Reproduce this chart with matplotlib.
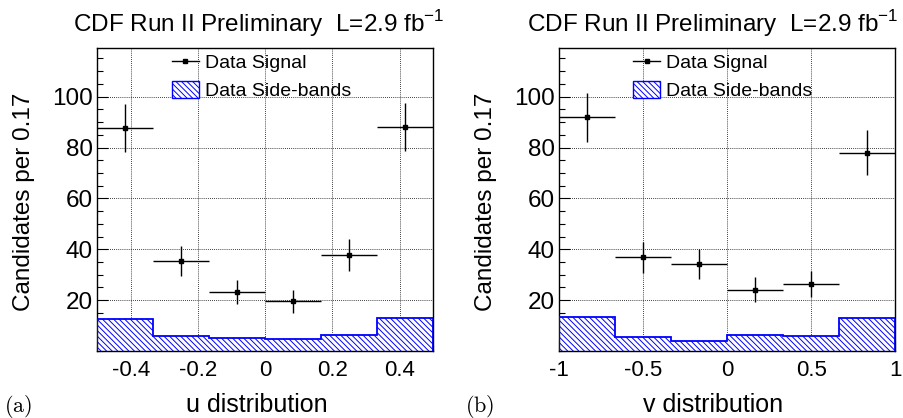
import numpy as np
import matplotlib
matplotlib.use("Agg")
import matplotlib.pyplot as plt
from matplotlib.patches import Patch
from matplotlib.lines import Line2D
from matplotlib.ticker import MultipleLocator, FixedLocator

plt.rcParams['font.family'] = ['Liberation Sans', 'DejaVu Sans']
plt.rcParams['mathtext.fontset'] = 'custom'
plt.rcParams['mathtext.rm'] = 'Liberation Sans'
plt.rcParams['hatch.linewidth'] = 0.7
plt.rcParams['hatch.color'] = '#0000ff'

# ---- data ----
u_edges = [-0.5, -1/3, -1/6, 0.0, 1/6, 1/3, 0.5]
u_signal = [87.6, 35.2, 23.3, 19.6, 37.8, 88.2]
u_signal_err = [9.4, 5.9, 4.8, 4.5, 6.2, 9.4]
u_sideband = [12.5, 6.0, 5.0, 4.6, 6.4, 12.9]

v_edges = [-1.0, -2/3, -1/3, 0.0, 1/3, 2/3, 1.0]
v_signal = [91.8, 36.8, 34.1, 24.1, 26.3, 78.0]
v_signal_err = [9.5, 6.1, 5.9, 4.9, 5.2, 8.7]
v_sideband = [13.2, 5.4, 3.8, 6.2, 5.8, 12.9]

title_text = r'CDF Run II Preliminary  L=2.9 fb$^{-1}$'
ylabel_text = 'Candidates per 0.17'
legend_labels = ['Data Signal', 'Data Side-bands']

HATCH = '\\' * 6

W, H = 904, 418
fig = plt.figure(figsize=(W/100, H/100), dpi=100)

panels = [
    dict(edges=u_edges, sig=u_signal, err=u_signal_err, sb=u_sideband,
         xlabel='u distribution', tag='(a)', left=97.3, xmin=0.05,
         xticks=[-0.4, -0.2, 0, 0.2, 0.4], xticklabels=['-0.4', '-0.2', '0', '0.2', '0.4'],
         title_x=259, ylab_x=24, tag_x=18, xlab_x=257, leg_x=0.221),
    dict(edges=v_edges, sig=v_signal, err=v_signal_err, sb=v_sideband,
         xlabel='v distribution', tag='(b)', left=559.3, xmin=0.1,
         xticks=[-1, -0.5, 0, 0.5, 1], xticklabels=['-1', '-0.5', '0', '0.5', '1'],
         title_x=713, ylab_x=486, tag_x=480, xlab_x=713, leg_x=0.219),
]

ax_w, ax_top, ax_bot = 336.0, 48.3, 351.0
for p in panels:
    ax = fig.add_axes([p['left']/W, (H-ax_bot)/H, ax_w/W, (ax_bot-ax_top)/H])
    edges = np.array(p['edges'])
    centers = 0.5*(edges[:-1] + edges[1:])
    halfw = 0.5*np.diff(edges)
    # side-band histogram (hatched)
    ax.stairs(p['sb'], edges, fill=True, facecolor='white', edgecolor='#0000ff',
              hatch=HATCH, linewidth=0, zorder=2)
    ax.stairs(p['sb'], edges, fill=False, edgecolor='#0000ff', linewidth=1.3,
              baseline=0, zorder=3)
    # signal data points
    ax.errorbar(centers, p['sig'], xerr=halfw, yerr=p['err'], fmt='s', color='black',
                ms=2.2, elinewidth=1.0, capsize=0, zorder=4)
    ax.set_xlim(edges[0], edges[-1])
    ax.set_ylim(0, 119)
    ax.xaxis.set_major_locator(FixedLocator(p['xticks']))
    ax.set_xticklabels(p['xticklabels'])
    ax.xaxis.set_minor_locator(MultipleLocator(p['xmin']))
    ax.yaxis.set_major_locator(FixedLocator([20, 40, 60, 80, 100]))
    ax.yaxis.set_minor_locator(MultipleLocator(5))
    ax.tick_params(which='both', direction='in', top=False, right=False,
                   colors='black', width=0.8)
    ax.tick_params(which='major', length=8)
    ax.tick_params(which='minor', length=4)
    ax.tick_params(axis='y', which='major', labelsize=17.5, pad=3.3)
    ax.tick_params(axis='x', which='major', labelsize=16, pad=6.5)
    ax.grid(True, which='major', linestyle=(0, (1, 1.5)), color='black', linewidth=0.6)
    for s in ax.spines.values():
        s.set_linewidth(1.0)
    # legend
    handles = [Line2D([], [], color='black', marker='s', ms=2.2, lw=1.0),
               Patch(facecolor='white', edgecolor='#0000ff', hatch=HATCH, linewidth=1.0)]
    ax.legend(handles, legend_labels, loc='upper left', bbox_to_anchor=(p['leg_x'], 0.985),
              frameon=False, fontsize=14, handlelength=1.42, handleheight=1.0,
              handletextpad=0.3, labelspacing=0.45, borderpad=0.0, borderaxespad=0.0)
    fig.text(p['title_x']/W, 1 - 24/H, title_text, ha='center', va='center', fontsize=17.5)
    fig.text(p['ylab_x']/W, 1 - 202/H, ylabel_text, ha='center', va='center',
             rotation=90, fontsize=17.5)
    fig.text(p['xlab_x']/W, 1 - 412/H, p['xlabel'], ha='center', va='baseline', fontsize=18)
    fig.text(p['tag_x']/W, 1 - 406/H, r'$\mathrm{' + p['tag'] + '}$', ha='center',
             va='center', fontsize=16, math_fontfamily='cm')

fig.savefig('out.png', dpi=100)
